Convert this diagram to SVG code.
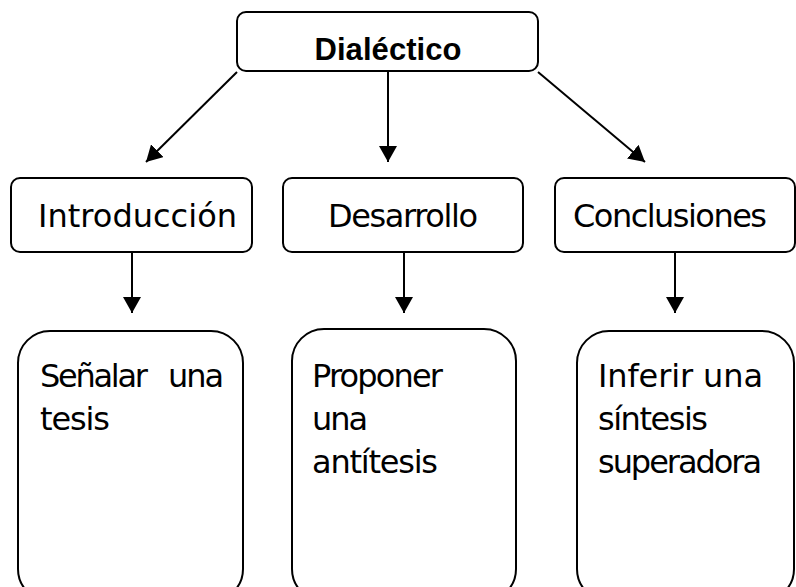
<svg xmlns="http://www.w3.org/2000/svg" width="796" height="587" viewBox="0 0 796 587">
<style>
.box{fill:#fff;stroke:#000;stroke-width:2}
.t{font-family:"DejaVu Sans",sans-serif;font-size:32px;fill:#000}
.b{font-family:"Liberation Sans",Arial,sans-serif;font-size:31px;font-weight:bold;fill:#000}
.c{stroke:#000;stroke-width:2;fill:none}
</style>
<defs>
<marker id="ah" markerUnits="userSpaceOnUse" markerWidth="17" markerHeight="18" refX="16" refY="9" orient="auto" viewBox="0 0 17 18">
<path d="M0,0 L16,9 L0,18 z" fill="#000"/>
</marker>
</defs>
<rect width="796" height="587" fill="#fff"/>
<g id="connectors">
<line class="c" x1="237" y1="72" x2="146" y2="162" marker-end="url(#ah)"/>
<line class="c" x1="388" y1="71" x2="388" y2="162" marker-end="url(#ah)"/>
<line class="c" x1="538" y1="72" x2="645" y2="162" marker-end="url(#ah)"/>
<line class="c" x1="132" y1="252" x2="132" y2="313" marker-end="url(#ah)"/>
<line class="c" x1="404" y1="252" x2="404" y2="313" marker-end="url(#ah)"/>
<line class="c" x1="675" y1="252" x2="675" y2="313" marker-end="url(#ah)"/>
</g>
<g id="dialectico">
<rect class="box" x="237" y="12" width="301" height="59" rx="9"/>
<text class="b" x="388" y="60" text-anchor="middle" textLength="147">Dialéctico</text>
</g>
<g id="introduccion">
<rect class="box" x="11" y="178" width="241" height="74" rx="9"/>
<text class="t" x="38" y="227" textLength="199">Introducción</text>
</g>
<g id="desarrollo">
<rect class="box" x="283" y="178" width="240" height="74" rx="9"/>
<text class="t" x="328" y="227" textLength="150">Desarrollo</text>
</g>
<g id="conclusiones">
<rect class="box" x="555" y="178" width="240" height="74" rx="9"/>
<text class="t" x="573" y="227" textLength="194">Conclusiones</text>
</g>
<g id="tesis">
<rect class="box" x="18" y="331" width="225" height="270" rx="32"/>
<text class="t" x="40" y="387" textLength="108">Señalar</text>
<text class="t" x="168" y="387" textLength="56">una</text>
<text class="t" x="40" y="430" textLength="70">tesis</text>
</g>
<g id="antitesis">
<rect class="box" x="292" y="329" width="224" height="272" rx="32"/>
<text class="t" x="312" y="387" textLength="131">Proponer</text>
<text class="t" x="312" y="430" textLength="56">una</text>
<text class="t" x="312" y="473" textLength="126">antítesis</text>
</g>
<g id="sintesis">
<rect class="box" x="577" y="331" width="217" height="270" rx="32"/>
<text class="t" x="598" y="387" textLength="165">Inferir una</text>
<text class="t" x="598" y="430" textLength="110">síntesis</text>
<text class="t" x="598" y="473" textLength="164">superadora</text>
</g>
</svg>
